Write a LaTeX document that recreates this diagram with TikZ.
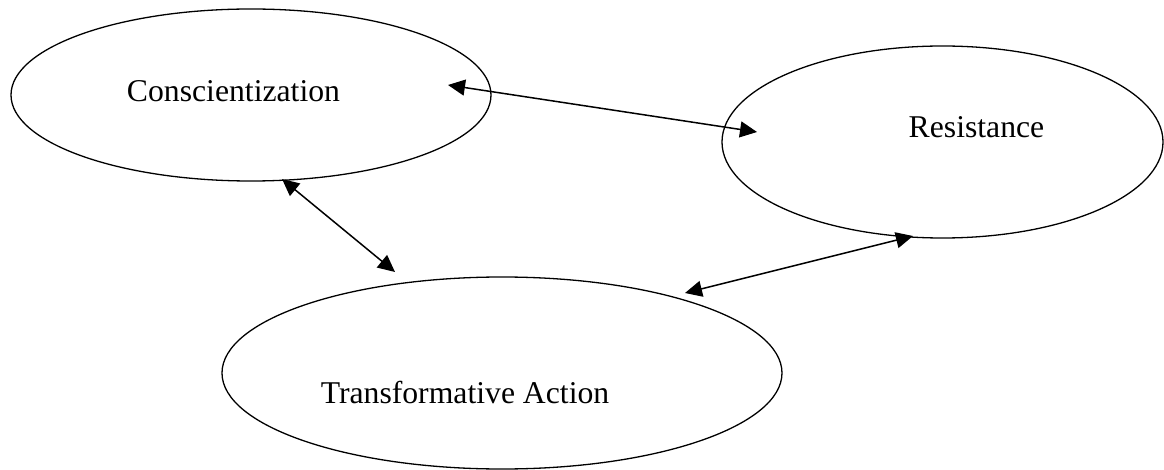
\documentclass[tikz,border=0pt]{standalone}
\usepackage{fontspec}
\setmainfont{Liberation Serif}
\usetikzlibrary{shapes.geometric,arrows.meta}
\begin{document}
\begin{tikzpicture}[x=1pt,y=-1pt,
  oval/.style={draw=black,line width=1.3pt,ellipse,inner sep=0pt},
  lbl/.style={anchor=base,inner sep=0pt,font=\fontsize{31.7}{38}\selectfont},
  link/.style={line width=1.5pt,{Triangle[length=17pt,width=16pt]}-{Triangle[length=17pt,width=16pt]}}]
\useasboundingbox (0,0) rectangle (1164,470);
\node[oval,minimum width=480pt,minimum height=172pt] (ce) at (251,95) {};
\node[oval,minimum width=441pt,minimum height=192pt] (re) at (942.5,142) {};
\node[oval,minimum width=560pt,minimum height=192pt] (te) at (502,373) {};
\node[lbl] (ct) at (233.5,102) {Conscientization};
\node[lbl] (rt) at (976.5,138) {Resistance};
\node[lbl] (tt) at (465,403) {Transformative Action};
\coordinate (a1) at (448,85);
\coordinate (a2) at (757,132);
\coordinate (b1) at (282,179);
\coordinate (b2) at (395,272);
\coordinate (c1) at (685,293);
\coordinate (c2) at (913,236);
\draw[link] (a1) -- (a2);
\draw[link] (b1) -- (b2);
\draw[link] (c1) -- (c2);
\end{tikzpicture}
\end{document}
